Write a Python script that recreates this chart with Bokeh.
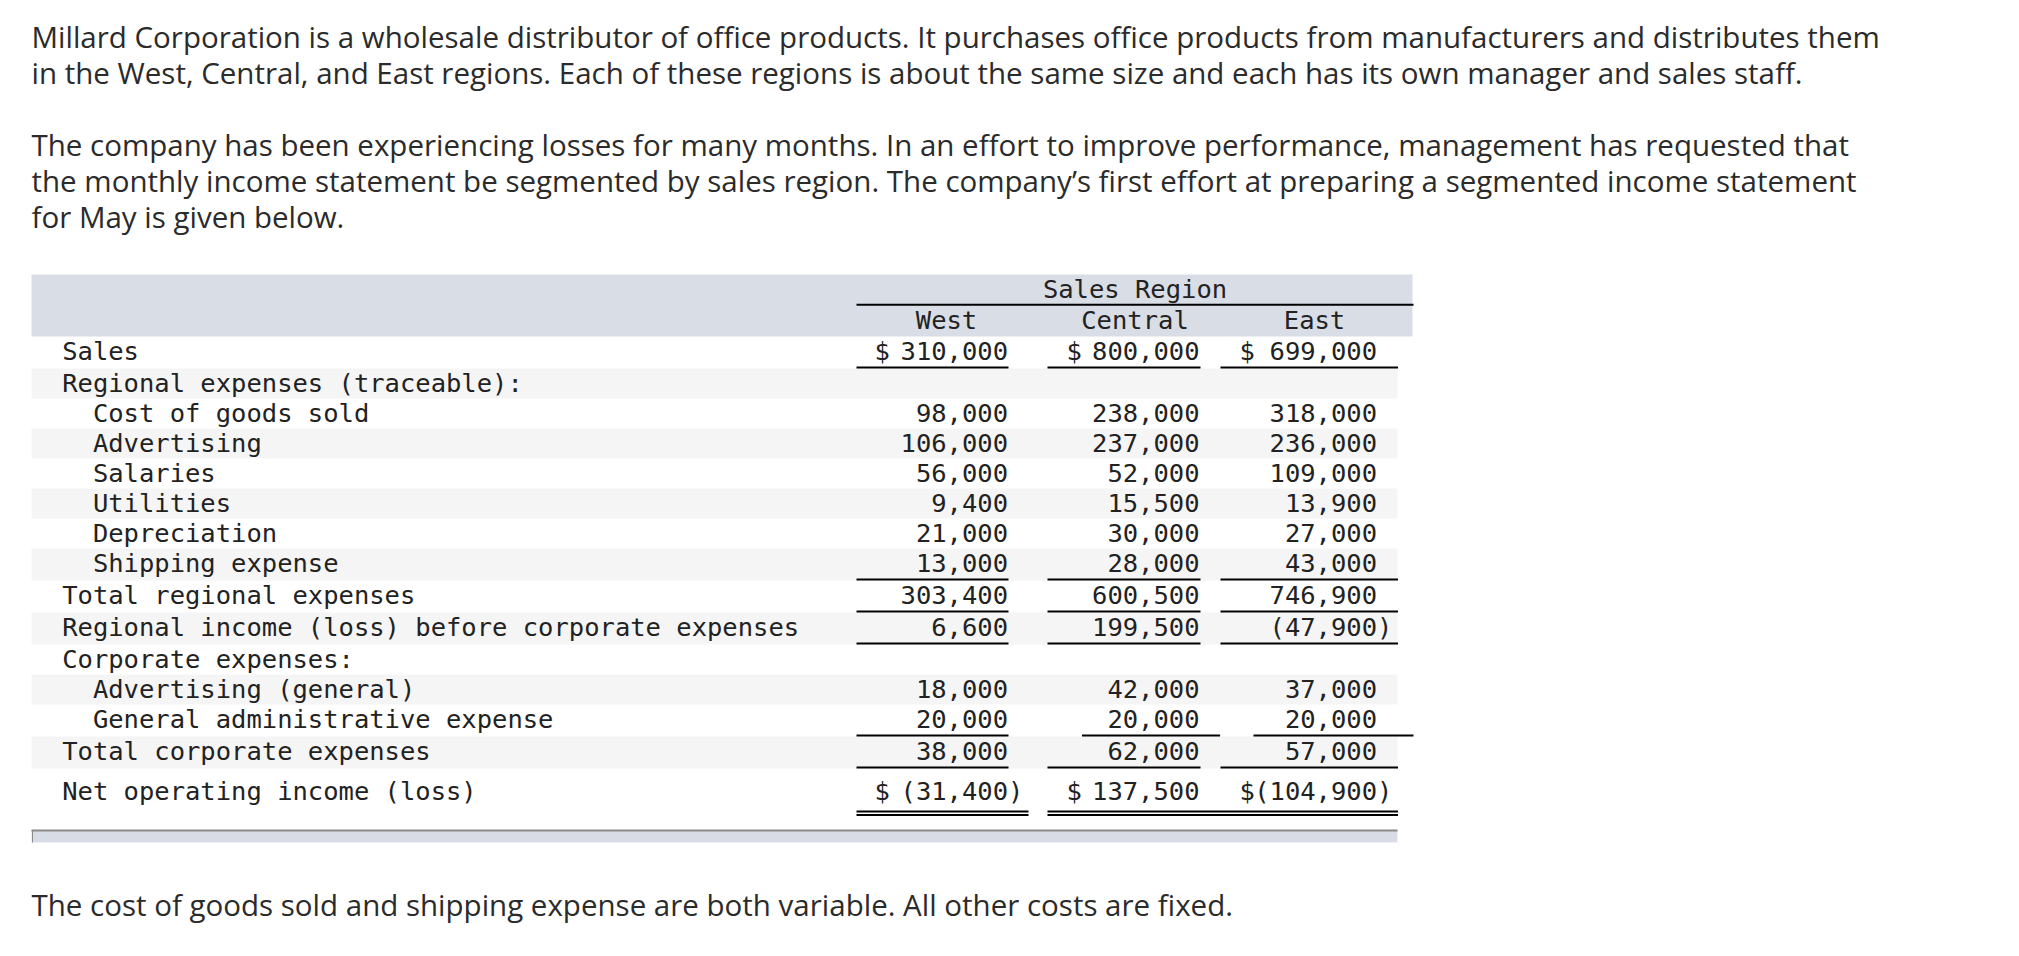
from bokeh.plotting import figure
from bokeh.models import Range1d
from bokeh.core.properties import value
from bokeh.embed import file_html
from bokeh.resources import INLINE

# ---------------- data ----------------
para1 = [
    "Millard Corporation is a wholesale distributor of office products. It purchases office products from manufacturers and distributes them",
    "in the West, Central, and East regions. Each of these regions is about the same size and each has its own manager and sales staff.",
]
para2 = [
    "The company has been experiencing losses for many months. In an effort to improve performance, management has requested that",
    "the monthly income statement be segmented by sales region. The company\u2019s first effort at preparing a segmented income statement",
    "for May is given below.",
]
footer = "The cost of goods sold and shipping expense are both variable. All other costs are fixed."

group_header = "Sales Region"
regions = ["West", "Central", "East"]

labels = [
    "Sales",
    "Regional expenses (traceable):",
    "Cost of goods sold",
    "Advertising",
    "Salaries",
    "Utilities",
    "Depreciation",
    "Shipping expense",
    "Total regional expenses",
    "Regional income (loss) before corporate expenses",
    "Corporate expenses:",
    "Advertising (general)",
    "General administrative expense",
    "Total corporate expenses",
    "Net operating income (loss)",
]
indent = [0, 0, 1, 1, 1, 1, 1, 1, 0, 0, 0, 1, 1, 0, 0]
west = [310000, None, 98000, 106000, 56000, 9400, 21000, 13000, 303400, 6600, None, 18000, 20000, 38000, -31400]
central = [800000, None, 238000, 237000, 52000, 15500, 30000, 28000, 600500, 199500, None, 42000, 20000, 62000, 137500]
east = [699000, None, 318000, 236000, 109000, 13900, 27000, 43000, 746900, -47900, None, 37000, 20000, 57000, -104900]
dollar_rows = [0, 14]
underline_rows = [0, 7, 8, 9, 12, 13]
double_rows = [14]

# ---------------- layout ----------------
W, H = 2003, 940

p = figure(width=W, height=H, x_range=Range1d(0, W), y_range=Range1d(H, 0),
           output_backend="svg", toolbar_location=None, min_border=0)
p.axis.visible = False
p.grid.visible = False
p.outline_line_color = None
p.background_fill_color = "white"
p.border_fill_color = "white"

prose_font = value("Open Sans")
prose_fs = 29.5
prose_size = f"{prose_fs}px"
prose_color = "#2b2b2b"
prose_dy = -1.3           # cap-centre -> anchor correction
mono = value("DejaVu Sans Mono")
mono_fs = 25.5
cw = 0.602 * mono_fs
mono_size = f"{mono_fs}px"
mono_dy = 0.4
tcolor = "#222222"

# prose (cap centres)
p1_c = [37, 73]
p2_c = [145.5, 181.5, 217.6]
p.text(x=[31] * 2, y=[c + prose_dy for c in p1_c], text=para1, text_font=prose_font,
       text_font_size=prose_size, text_color=prose_color, text_baseline="alphabetic", text_align="left")
p.text(x=[31] * 3, y=[c + prose_dy for c in p2_c], text=para2, text_font=prose_font,
       text_font_size=prose_size, text_color=prose_color, text_baseline="alphabetic", text_align="left")
p.text(x=[31], y=[905 + prose_dy], text=[footer], text_font=prose_font,
       text_font_size=prose_size, text_color=prose_color, text_baseline="alphabetic", text_align="left")

# table geometry
tbl_left, tbl_right = 31, 1397
hdr_top, hdr_bot, hdr_right = 274, 336, 1412
col_right = [1007.5, 1199, 1376.5]
dollar_x = [874, 1066, 1239]
hdr_center = [946, 1134.5, 1314]
std_spans = [(856, 1008), (1047, 1200), (1220, 1397.5)]
ga_spans = [(856, 1008), (1081.5, 1219.6), (1253, 1413)]

# row tops
tops = []
t = hdr_bot
for i in range(len(labels) - 1):
    tops.append(t)
    t += 32 if i in underline_rows else 30
tops.append(t)  # net row
bottoms = tops[1:] + [tops[-1] + 42]

# header band
p.quad(left=[tbl_left], right=[hdr_right], top=[hdr_top], bottom=[hdr_bot],
       fill_color="#d9dde6", line_color=None)

# row striping
sl, sr, st, sb = [], [], [], []
for i in range(len(labels)):
    if i % 2 == 1:
        sl.append(tbl_left); sr.append(tbl_right)
        st.append(tops[i]); sb.append(bottoms[i])
p.quad(left=sl, right=sr, top=st, bottom=sb, fill_color="#f5f5f5", line_color=None)

# header texts
p.text(x=[1134.5], y=[288.5 + mono_dy], text=[group_header], text_font=mono, text_font_size=mono_size,
       text_color=tcolor, text_align="center", text_baseline="alphabetic")
p.segment(x0=[856], y0=[304.3], x1=[1413], y1=[304.3], line_color="black", line_width=2)
p.text(x=hdr_center, y=[319.5 + mono_dy] * 3, text=regions, text_font=mono,
       text_font_size=mono_size, text_color=tcolor, text_align="center", text_baseline="alphabetic")

# labels
lx = [61.7 + 2 * cw * ind for ind in indent]
ly = [tops[i] + 14.5 + mono_dy for i in range(len(labels) - 1)] + [790 + mono_dy]
p.text(x=lx, y=ly, text=labels, text_font=mono, text_font_size=mono_size, text_color=tcolor,
       text_align="left", text_baseline="alphabetic")

# numbers
nx, ny, nt = [], [], []
dx, dy = [], []
for c, series in enumerate([west, central, east]):
    for i, v in enumerate(series):
        if v is None:
            continue
        s = f"{abs(v):,}"
        if v < 0:
            s = f"({s})"
            nx.append(col_right[c] + cw)
        else:
            nx.append(col_right[c])
        ny.append(ly[i]); nt.append(s)
        if i in dollar_rows:
            dx.append(dollar_x[c]); dy.append(ly[i])
p.text(x=nx, y=ny, text=nt, text_font=mono, text_font_size=mono_size, text_color=tcolor,
       text_align="right", text_baseline="alphabetic")
p.text(x=dx, y=dy, text=["$"] * len(dx), text_font=mono, text_font_size=mono_size, text_color=tcolor,
       text_align="left", text_baseline="alphabetic")

# underlines
ux0, ux1, uy = [], [], []
for i in underline_rows:
    spans = ga_spans if labels[i].startswith("General administrative") else std_spans
    yb = bottoms[i] - 1
    for a, b in spans:
        ux0.append(a); ux1.append(b); uy.append(yb)
for i in double_rows:
    for yy in (811, 814.5):
        for a, b in [(856, 1028), (1047, 1397.5)]:
            ux0.append(a); ux1.append(b); uy.append(yy)
p.segment(x0=ux0, y0=uy, x1=ux1, y1=uy, line_color="black", line_width=2)

# bottom scroll bar
p.quad(left=[31], right=[1397], top=[830], bottom=[842], fill_color="#d8dce5",
       line_color="#eef1f8", line_width=1)
p.segment(x0=[31], y0=[830], x1=[1397], y1=[830], line_color="#8a8a8a", line_width=2)
p.segment(x0=[32], y0=[830], x1=[32], y1=[842], line_color="#8a8a8a", line_width=1)

open("out.html", "w").write(file_html(p, INLINE))
